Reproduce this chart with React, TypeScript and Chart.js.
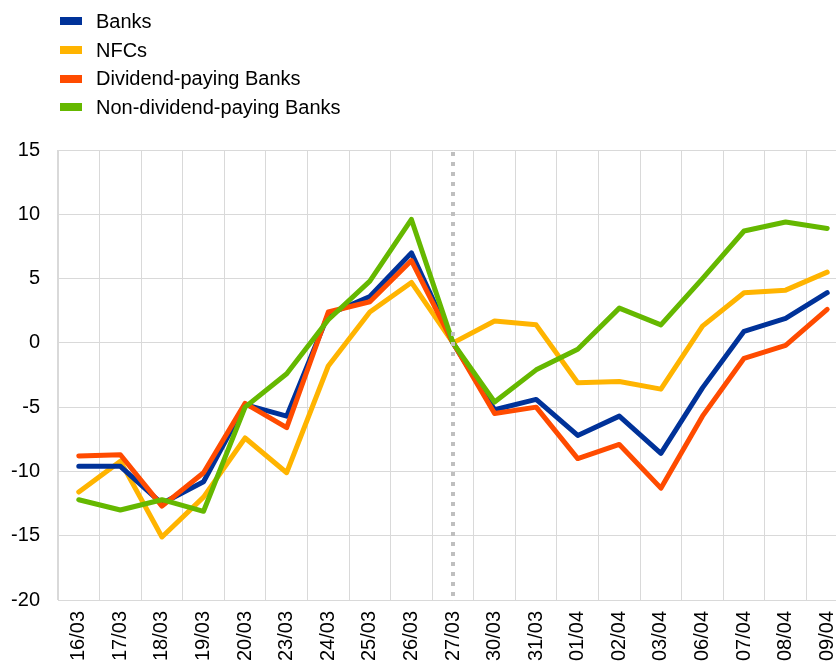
import React, { useEffect, useRef } from "react";
import { Chart, registerables } from "chart.js";

Chart.register(...registerables);

const dates = ["16/03", "17/03", "18/03", "19/03", "20/03", "23/03", "24/03", "25/03", "26/03", "27/03", "30/03", "31/03", "01/04", "02/04", "03/04", "06/04", "07/04", "08/04", "09/04"];
const banks = [-9.6, -9.6, -12.5, -10.8, -4.8, -5.7, 2.2, 3.6, 7.0, 0, -5.2, -4.4, -7.2, -5.7, -8.6, -3.5, 0.9, 1.9, 3.9];
const nfcs = [-11.6, -9.2, -15.1, -12.0, -7.4, -10.1, -1.8, 2.4, 4.7, 0, 1.7, 1.4, -3.1, -3.0, -3.6, 1.3, 3.9, 4.1, 5.5];
const dividendPaying = [-8.8, -8.7, -12.7, -10.1, -4.7, -6.6, 2.4, 3.2, 6.4, 0, -5.5, -5.0, -9.0, -7.9, -11.3, -5.7, -1.2, -0.2, 2.6];
const nonDividendPaying = [-12.2, -13.0, -12.2, -13.1, -5.0, -2.4, 1.8, 4.8, 9.6, 0, -4.6, -2.1, -0.5, 2.7, 1.4, 5.0, 8.7, 9.4, 8.9];
const seriesNames = ["Banks", "NFCs", "Dividend-paying Banks", "Non-dividend-paying Banks"];
const seriesColors = ["#003299", "#FFB400", "#FF4B00", "#65B800"];
const markerDate = "27/03";
const yMin = -20;
const yMax = 15;
const yStep = 5;

const FONT = "'Liberation Sans', Arial, sans-serif";

const markerPlugin = {
  id: "marker",
  afterDatasetsDraw(chart: any) {
    const idx = dates.indexOf(markerDate);
    const x = chart.scales.x.getPixelForValue(idx);
    const { top, bottom } = chart.chartArea;
    const ctx = chart.ctx;
    ctx.save();
    ctx.strokeStyle = "#BFBFBF";
    ctx.lineWidth = 4;
    ctx.setLineDash([4, 6]);
    ctx.beginPath();
    ctx.moveTo(x, top + 2);
    ctx.lineTo(x, bottom);
    ctx.stroke();
    ctx.restore();
  },
};

export default function App() {
  const ref = useRef<HTMLCanvasElement>(null);
  useEffect(() => {
    if (!ref.current) return;
    const all = [banks, nfcs, dividendPaying, nonDividendPaying];
    const orders = [2, 3, 1, 0];
    const chart = new Chart(ref.current, {
      type: "line",
      data: {
        labels: dates,
        datasets: all.map((d, i) => ({
          label: seriesNames[i],
          data: d,
          borderColor: seriesColors[i],
          backgroundColor: seriesColors[i],
          borderWidth: 5,
          pointRadius: 0,
          tension: 0,
          borderCapStyle: "round" as const,
          borderJoinStyle: "round" as const,
          order: orders[i],
        })),
      },
      options: {
        responsive: false,
        animation: false,
        layout: { padding: { top: 150, left: 0, right: 0, bottom: 0 } },
        plugins: { legend: { display: false }, tooltip: { enabled: false } },
        scales: {
          x: {
            offset: true,
            grid: { color: "#D9D9D9", offset: true, drawTicks: false },
            border: { color: "#D9D9D9" },
            ticks: {
              color: "#000",
              font: { family: FONT, size: 20 },
              maxRotation: 90,
              minRotation: 90,
              padding: 11,
              autoSkip: false,
            },
            afterFit(s: any) {
              s.height = 63;
              s.paddingLeft = 0;
              s.paddingRight = 0;
            },
          },
          y: {
            min: yMin,
            max: yMax,
            grid: { color: "#D9D9D9", drawTicks: false },
            border: { color: "#D9D9D9" },
            ticks: {
              stepSize: yStep,
              color: "#000",
              font: { family: FONT, size: 20 },
              padding: 18,
            },
            afterFit(s: any) {
              s.width = 58;
              s.paddingTop = 0;
              s.paddingBottom = 0;
            },
          },
        },
      },
      plugins: [markerPlugin],
    });
    return () => chart.destroy();
  }, []);

  return (
    <div style={{ position: "fixed", left: 0, top: 0, width: 836, height: 663, overflow: "hidden", background: "#fff" }}>
      <canvas ref={ref} width={848} height={663} style={{ position: "absolute", left: 0, top: 0 }} />
      <div style={{ position: "absolute", left: 60, top: 7, fontFamily: FONT, fontSize: 20, color: "#000" }}>
        {seriesNames.map((n, i) => (
          <div key={n} style={{ display: "flex", alignItems: "center", height: 28.7 }}>
            <span style={{ display: "inline-block", width: 22, height: 8, background: seriesColors[i], marginRight: 14 }} />
            <span>{n}</span>
          </div>
        ))}
      </div>
    </div>
  );
}
